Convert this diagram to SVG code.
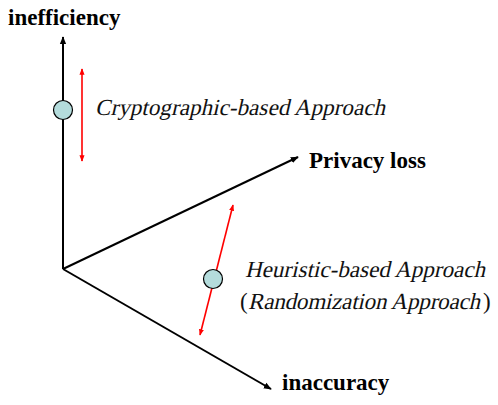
<svg xmlns="http://www.w3.org/2000/svg" width="498" height="405" viewBox="0 0 498 405">
<style>
.axis{stroke:#000;stroke-width:2;fill:none}
.range{stroke:#f00;stroke-width:1.6;fill:none}
.dot{fill:#b4dcdc;stroke:#000;stroke-width:1.2}
.lbl{font-family:"Liberation Serif","Times New Roman",serif;font-size:23px;font-weight:bold;fill:#000}
.it{font-family:"Liberation Serif","Times New Roman",serif;font-size:23px;fill:#111}
</style>
<defs>
<marker id="ab" viewBox="0 0 10 10" refX="9" refY="5" markerWidth="4" markerHeight="4" orient="auto" markerUnits="strokeWidth"><path d="M0,1 L10,5 L0,9 z" fill="#000"/></marker>
<marker id="ar" viewBox="0 0 10 10" refX="9" refY="5" markerWidth="4" markerHeight="4" orient="auto-start-reverse" markerUnits="strokeWidth"><path d="M0,1 L10,5 L0,9 z" fill="#f00"/></marker>
</defs>
<g id="connectors">
<line class="axis" x1="63" y1="269" x2="63" y2="37" marker-end="url(#ab)"/>
<line class="axis" x1="63" y1="269" x2="298" y2="157" marker-end="url(#ab)"/>
<line class="axis" x1="63" y1="269" x2="271" y2="389" marker-end="url(#ab)"/>
<line class="range" x1="82" y1="69" x2="82" y2="161" marker-start="url(#ar)" marker-end="url(#ar)"/>
<line class="range" x1="233" y1="205" x2="200" y2="335" marker-start="url(#ar)" marker-end="url(#ar)"/>
</g>
<g id="inefficiency"><text class="lbl" x="8" y="25">inefficiency</text></g>
<g id="privacy-loss"><text class="lbl" x="309" y="168">Privacy loss</text></g>
<g id="inaccuracy"><text class="lbl" x="282" y="390">inaccuracy</text></g>
<g id="crypto">
<circle class="dot" cx="63" cy="110" r="9.5"/>
<g transform="translate(95,115) skewX(-13)"><text class="it" x="0" y="0" textLength="290" lengthAdjust="spacing">Cryptographic-based Approach</text></g>
</g>
<g id="heuristic">
<circle class="dot" cx="213" cy="279" r="9.5"/>
<g transform="translate(245,277) skewX(-13)"><text class="it" x="0" y="0" textLength="240" lengthAdjust="spacing">Heuristic-based Approach</text></g>
<text class="it" x="240" y="309">(</text>
<g transform="translate(248,309) skewX(-13)"><text class="it" x="0" y="0" textLength="232" lengthAdjust="spacing">Randomization Approach</text></g>
<text class="it" x="483" y="309">)</text>
</g>
</svg>
